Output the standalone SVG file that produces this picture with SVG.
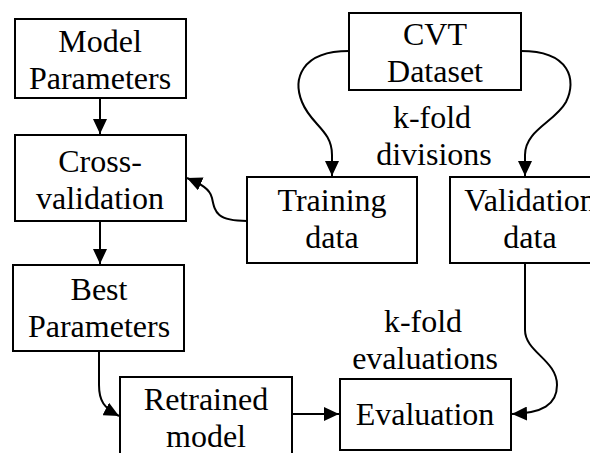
<svg xmlns="http://www.w3.org/2000/svg" width="590" height="453" viewBox="0 0 590 453">
<style>
.box{fill:#fff;stroke:#000;stroke-width:2}
.t{font-family:'Liberation Serif','DejaVu Serif',serif;font-size:32px;fill:#000;text-anchor:middle}
.c{fill:none;stroke:#000;stroke-width:2;marker-end:url(#ah)}
</style>
<defs>
<marker id="ah" markerUnits="userSpaceOnUse" markerWidth="16" markerHeight="14" refX="15" refY="7" orient="auto" viewBox="0 0 16 14">
<path d="M0,0 L15,7 L0,14 z" fill="#000"/>
</marker>
</defs>
<rect width="590" height="453" fill="#fff"/>
<g id="connectors">
<path class="c" d="M100,98 L100,134"/>
<path class="c" d="M100,221 L100,264"/>
<path class="c" d="M247,221 C216,221 215,212 212,198 C210,189 201,184 187,178"/>
<path class="c" d="M349,51 C300,51 293,80 302,102 C311,125 332,130 332,155 L332,176"/>
<path class="c" d="M521,51 C570,51 577,80 566,102 C555,122 525,130 525,155 L525,176"/>
<path class="c" d="M99,351 L99,385 C99,401 104,408 119,416"/>
<path class="c" d="M292,414 L339,414"/>
<path class="c" d="M525,263 L525,330 C525,352 557,360 557,385 C557,405 542,413 512,414"/>
</g>
<g id="model-parameters">
<rect class="box" x="15" y="19" width="171" height="79"/>
<text class="t" x="100" y="52" font-family="Liberation Serif">Model</text>
<text class="t" x="100" y="89">Parameters</text>
</g>
<g id="cross-validation">
<rect class="box" x="15" y="135" width="171" height="86"/>
<text class="t" x="100" y="172">Cross-</text>
<text class="t" x="100" y="209">validation</text>
</g>
<g id="best-parameters">
<rect class="box" x="13" y="265" width="171" height="86"/>
<text class="t" x="99" y="300">Best</text>
<text class="t" x="99" y="337">Parameters</text>
</g>
<g id="cvt-dataset">
<rect class="box" x="349" y="13" width="172" height="77"/>
<text class="t" x="435" y="45">CVT</text>
<text class="t" x="435" y="82">Dataset</text>
</g>
<g id="training-data">
<rect class="box" x="247" y="177" width="170" height="86"/>
<text class="t" x="332" y="211">Training</text>
<text class="t" x="332" y="248">data</text>
</g>
<g id="validation-data">
<rect class="box" x="450" y="177" width="170" height="86"/>
<text class="t" x="530" y="211">Validation</text>
<text class="t" x="530" y="248">data</text>
</g>
<g id="retrained-model">
<rect class="box" x="120" y="377" width="172" height="90"/>
<text class="t" x="206" y="410">Retrained</text>
<text class="t" x="206" y="447">model</text>
</g>
<g id="evaluation">
<rect class="box" x="340" y="379" width="171" height="71"/>
<text class="t" x="425" y="425">Evaluation</text>
</g>
<g id="labels">
<text class="t" x="432" y="128">k-fold</text>
<text class="t" x="434" y="165">divisions</text>
<text class="t" x="423" y="332">k-fold</text>
<text class="t" x="425" y="369">evaluations</text>
</g>
</svg>
